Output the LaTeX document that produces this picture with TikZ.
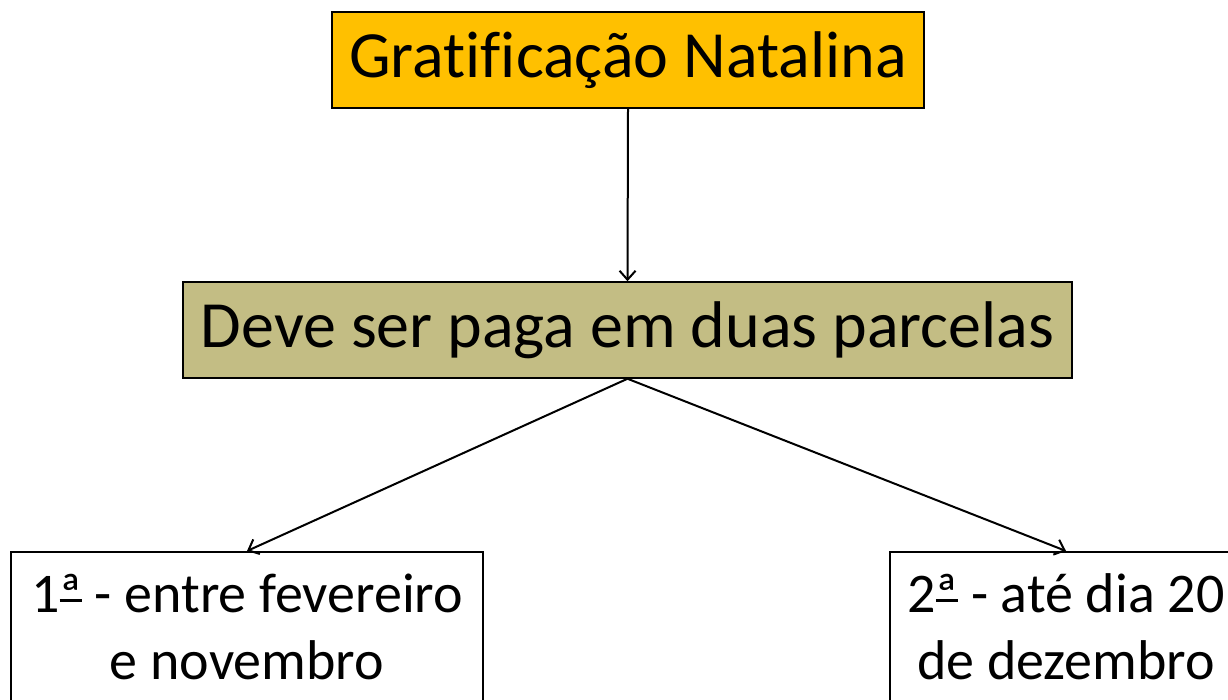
\documentclass[tikz,border=0pt]{standalone}
\usepackage{fontspec}
\setmainfont{Carlito}[RawFeature={-liga;-clig;-dlig;-calt}]
\usetikzlibrary{arrows.meta}
\definecolor{boxorange}{RGB}{255,192,0}
\definecolor{boxolive}{RGB}{195,189,132}
\newcommand{\ordfemu}{\setbox0\hbox{ª}\rlap{\usebox0}\raisebox{0.19em}{\rule{\wd0}{0.055em}}}
\tikzset{
  box/.style={draw=black, line width=1.5pt, inner sep=0pt, align=center},
  arr/.style={draw=black, line width=2pt, -{Straight Barb[length=9pt,width=16pt,line width=2pt]}},
  bigfont/.style={font=\fontsize{66}{78}\selectfont},
  smallfont/.style={font=\fontsize{56}{67}\selectfont}
}
\begin{document}
\begin{tikzpicture}[x=1pt,y=-1pt]
\useasboundingbox (0,0) rectangle (1228,700);
\clip (0,0) rectangle (1228,700);
\node[box, fill=boxorange, bigfont, minimum width=592pt, minimum height=96pt] (top) at (628,60) {Grat\kern0pt if\kern0pt icação Natalina};
\node[box, fill=boxolive, bigfont, minimum width=889pt, minimum height=96pt] (mid) at (627.5,330) {Deve ser paga em duas parcelas};
\node[box, fill=white, smallfont, anchor=north, minimum width=472pt, inner ysep=22pt] (left) at (247,551) {1\ordfemu{} - entre fevereiro\\e novembro};
\node[box, fill=white, smallfont, anchor=north, minimum width=352pt, inner ysep=22pt] (right) at (1066,551) {2\ordfemu{} - até dia 20\\de dezembro};
\draw[arr] (top.south) -- (mid.north);
\draw[arr] (mid.south) -- (left.north);
\draw[arr] (mid.south) -- (right.north);
\end{tikzpicture}
\end{document}
